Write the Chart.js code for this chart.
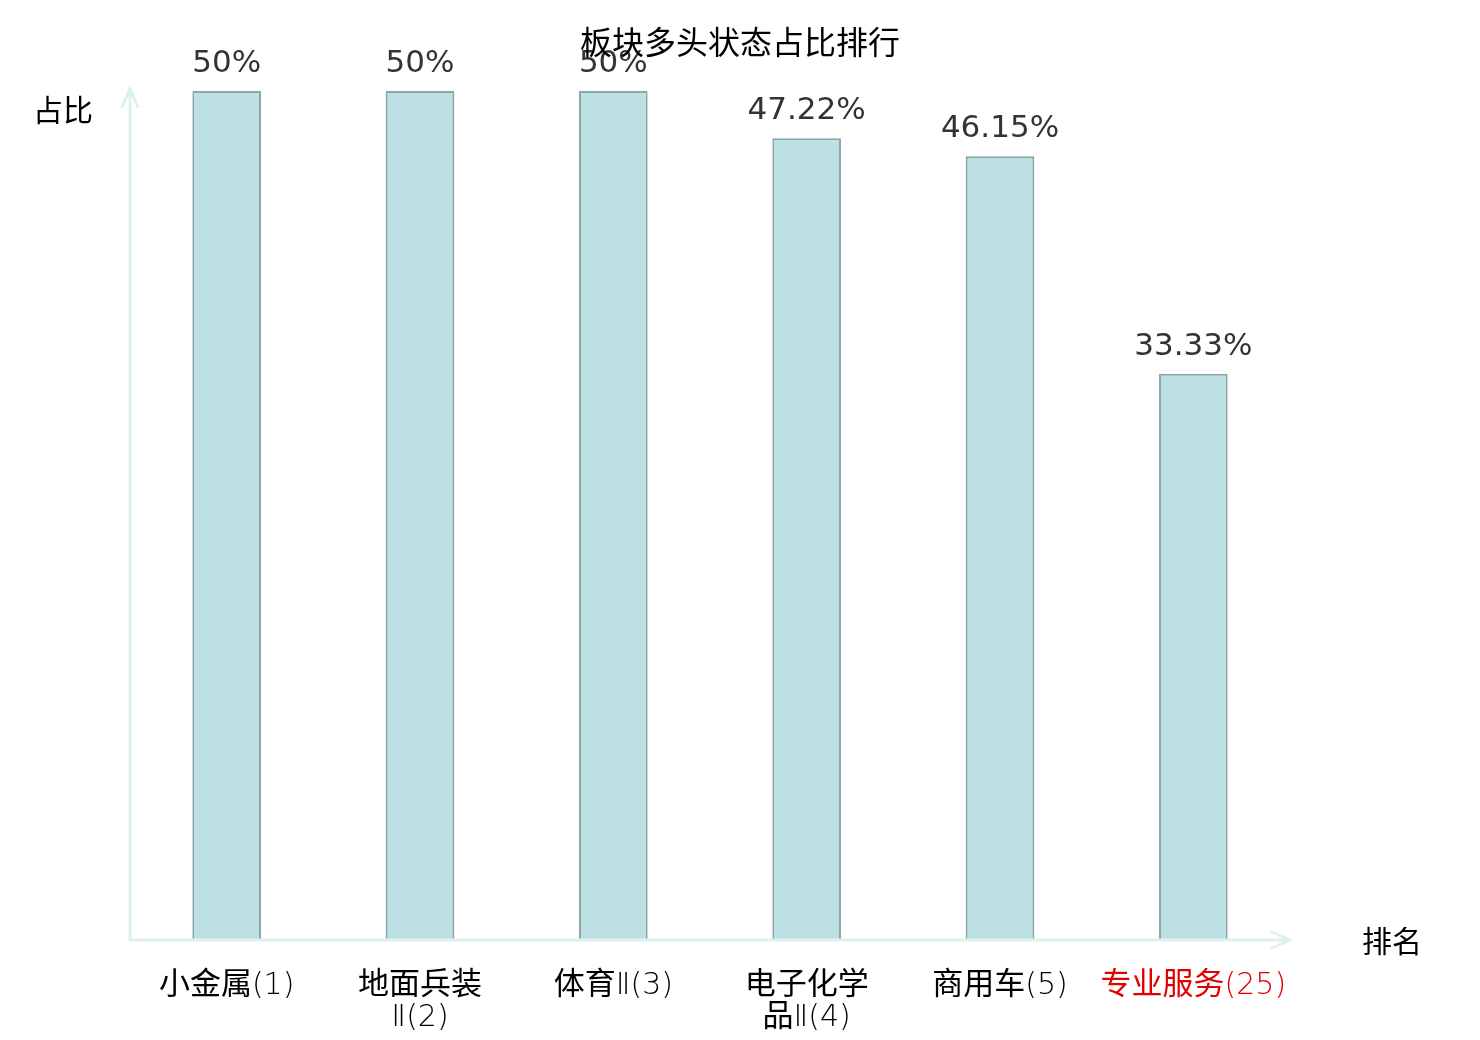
<!DOCTYPE html>
<html><head><meta charset="utf-8">
<script src="https://cdn.jsdelivr.net/npm/chart.js@4"></script>
<style>html,body{margin:0;padding:0;background:#fff}#wrap{width:1480px;height:1040px}</style>
</head><body><div id="wrap"><canvas id="c" width="1480" height="1040"></canvas></div>
<script>
const categories = [["小金属(1)"], ["地面兵装", "Ⅱ(2)"], ["体育Ⅱ(3)"], ["电子化学", "品Ⅱ(4)"], ["商用车(5)"], ["专业服务(25)"]];
const values = [50, 50, 50, 47.22, 46.15, 33.33];
const valueLabels = ["50%", "50%", "50%", "47.22%", "46.15%", "33.33%"];
const labelColors = ["#000", "#000", "#000", "#000", "#000", "#e00000"];
const titleText = "板块多头状态占比排行";
const yName = "占比";
const xName = "排名";

const FONT = '"DejaVu Sans", sans-serif';
const CJK = '"Noto Sans CJK SC", "DejaVu Sans", sans-serif';
const CJK_FONT = '31px ' + CJK;
const LATIN_FONT = '200 30px "DejaVu Sans", sans-serif';

function runs(text) {
  const out = [];
  for (const ch of text) {
    const cjk = /[\u3000-\u9fff]/.test(ch);
    const f = cjk ? CJK_FONT : LATIN_FONT;
    if (out.length && out[out.length - 1].f === f) out[out.length - 1].t += ch;
    else out.push({t: ch, f});
  }
  return out;
}
function drawMixed(ctx, text, cx, baseY) {
  const rs = runs(text);
  let w = 0;
  rs.forEach(r => { ctx.font = r.f; r.w = ctx.measureText(r.t).width; w += r.w; });
  let xx = cx - w / 2;
  ctx.textAlign = 'left';
  ctx.textBaseline = 'alphabetic';
  rs.forEach(r => { ctx.font = r.f; ctx.fillText(r.t, xx, baseY); xx += r.w; });
  ctx.textAlign = 'center';
}

const deco = {
  id: 'deco',
  afterDatasetsDraw(chart) {
    const {ctx, chartArea: a, scales: {x, y}} = chart;
    ctx.save();
    // axes
    ctx.strokeStyle = '#ddf1ef';
    ctx.lineWidth = 3;
    ctx.lineCap = 'round';
    const x0 = a.left, y0 = a.bottom + 1;
    ctx.beginPath();
    ctx.moveTo(x0, y0); ctx.lineTo(x0, a.top - 2);
    ctx.moveTo(x0 - 8, a.top + 16); ctx.lineTo(x0, a.top - 2); ctx.lineTo(x0 + 8, a.top + 16);
    ctx.moveTo(x0, y0); ctx.lineTo(a.right, y0);
    ctx.moveTo(a.right - 18, y0 - 8); ctx.lineTo(a.right, y0); ctx.lineTo(a.right - 18, y0 + 8);
    ctx.stroke();
    // value labels
    ctx.fillStyle = '#333';
    ctx.font = '31px ' + FONT;
    ctx.textAlign = 'center';
    ctx.textBaseline = 'alphabetic';
    values.forEach((v, i) => {
      ctx.fillText(valueLabels[i], x.getPixelForValue(i), y.getPixelForValue(v) - 19);
    });
    // category labels
    categories.forEach((lines, i) => {
      ctx.fillStyle = labelColors[i];
      lines.forEach((t, j) => drawMixed(ctx, t, x.getPixelForValue(i), a.bottom + 55 + j * 32));
    });
    // axis names
    ctx.fillStyle = '#000';
    ctx.textBaseline = 'middle';
    ctx.font = '30px ' + CJK;
    ctx.fillText(yName, 63, 110);
    ctx.fillText(xName, 1392, 941);
    // title
    ctx.font = '32px ' + CJK;
    ctx.fillText(titleText, 740, 42);
    ctx.restore();
  }
};

new Chart(document.getElementById('c'), {
  type: 'bar',
  data: {
    labels: categories,
    datasets: [{
      data: values,
      backgroundColor: '#bce0e3',
      borderColor: '#8aa6a7',
      borderWidth: 2,
      barPercentage: 0.355,
      categoryPercentage: 1
    }]
  },
  options: {
    responsive: false,
    animation: false,
    devicePixelRatio: 1,
    layout: {padding: {left: 130, right: 190, top: 91, bottom: 101}},
    plugins: {legend: {display: false}, tooltip: {enabled: false}, title: {display: false}},
    scales: {
      x: {display: false},
      y: {display: false, min: 0, max: 50}
    }
  },
  plugins: [deco]
});
</script></body></html>
